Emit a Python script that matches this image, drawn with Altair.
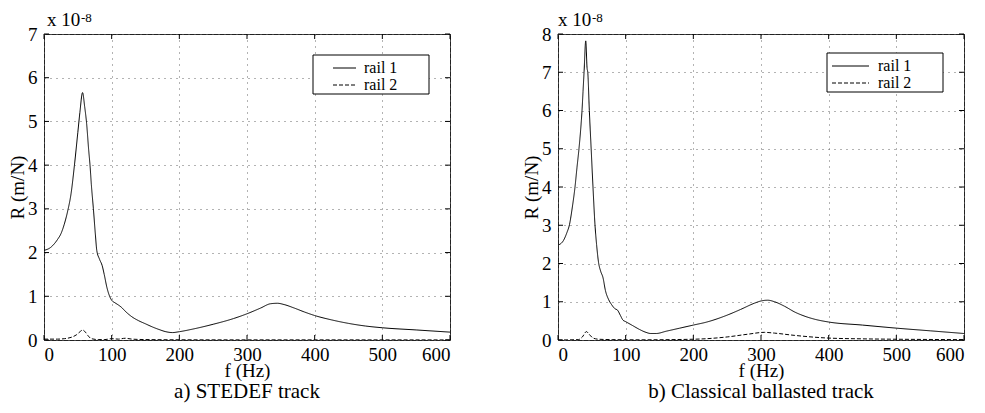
import altair as alt
import pandas as pd

# ---------------- data (R in units of 1e-8 m/N) ----------------
a_f1 = [0, 10, 20, 25, 30, 35, 40, 45, 50, 53, 57, 60, 63, 66, 68, 70, 73, 76, 78, 82, 86, 89, 93, 97,
        100, 105, 110, 115, 120, 130, 140, 150, 160, 170, 180, 190, 200, 220, 250, 280, 300, 320, 335,
        345, 355, 370, 385, 400, 425, 450, 475, 500, 550, 600]
a_r1 = [2.05, 2.12, 2.3, 2.43, 2.65, 2.95, 3.35, 4.0, 4.75, 5.2, 5.66, 5.35, 4.95, 4.35, 4.0, 3.55, 3.0,
        2.4, 2.05, 1.85, 1.7, 1.5, 1.2, 1.0, 0.91, 0.85, 0.8, 0.74, 0.66, 0.53, 0.44, 0.37, 0.3, 0.24,
        0.19, 0.17, 0.19, 0.25, 0.36, 0.49, 0.6, 0.73, 0.83, 0.84, 0.81, 0.73, 0.64, 0.56, 0.46, 0.38,
        0.32, 0.28, 0.23, 0.18]
a_f2 = [0, 20, 30, 40, 48, 54, 57, 60, 65, 70, 80, 90, 100, 110, 120, 130, 150, 200, 300, 400, 600]
a_r2 = [0.02, 0.02, 0.03, 0.06, 0.12, 0.2, 0.23, 0.2, 0.1, 0.03, 0.01, 0.01, 0.03, 0.02, 0.04, 0.02,
        0.01, 0.005, 0.003, 0.003, 0.002]

b_f1 = [0, 8, 13, 17, 21, 25, 28, 31, 33.5, 35.5, 37, 38.5, 41, 43, 44, 46.3, 49, 51.7, 54.7, 57, 60,
        63, 66.5, 70, 75, 79, 84, 88, 92, 96, 100, 110, 120, 130, 137, 145, 160, 180, 200, 220, 250,
        270, 290, 300, 310, 320, 335, 350, 365, 380, 400, 450, 500, 550, 600]
b_r1 = [2.48, 2.6, 2.8, 3.02, 3.45, 3.98, 4.5, 5.0, 5.5, 6.0, 6.5, 7.0, 7.82, 7.1, 7.0, 6.0, 5.0, 4.0,
        3.0, 2.5, 2.02, 1.8, 1.63, 1.3, 1.05, 0.93, 0.82, 0.78, 0.65, 0.52, 0.48, 0.38, 0.28, 0.2, 0.17,
        0.17, 0.23, 0.31, 0.39, 0.47, 0.65, 0.8, 0.96, 1.02, 1.04, 1.0, 0.88, 0.73, 0.62, 0.54, 0.47,
        0.39, 0.31, 0.24, 0.17]
b_f2 = [0, 30, 36, 42, 46, 52, 60, 80, 120, 200, 250, 280, 305, 320, 350, 400, 450, 500, 600]
b_r2 = [0.0, 0.01, 0.08, 0.22, 0.15, 0.05, 0.02, 0.01, 0.005, 0.02, 0.08, 0.15, 0.2, 0.18, 0.12, 0.05,
        0.03, 0.02, 0.01]

series_names = ["rail 1", "rail 2"]
x_ticks = [0, 100, 200, 300, 400, 500, 600]
a_y_ticks = [0, 1, 2, 3, 4, 5, 6, 7]
b_y_ticks = [0, 1, 2, 3, 4, 5, 6, 7, 8]
exp_base = "x 10"
exp_power = "-8"
titles = ["a) STEDEF track", "b) Classical ballasted track"]
x_title = "f (Hz)"
y_title = "R (m/N)"

W, H = 406, 306
FONT = "Liberation Serif"
TICK = 5
DASHES = [[1, 0], [4, 2]]
ONE = pd.DataFrame({"k": [0]})


def panel(f1, r1, f2, r2, yticks, title, text_x, leg_y, sym_x0, sym_x1):
    df = pd.concat([
        pd.DataFrame({"f": f1, "R": r1, "rail": series_names[0]}),
        pd.DataFrame({"f": f2, "R": r2, "rail": series_names[1]}),
    ])
    ymax = yticks[-1]
    xs = alt.Scale(domain=[0, 600], nice=False, zero=False)
    ys = alt.Scale(domain=[0, ymax], nice=False)
    xa = alt.Axis(values=x_ticks, title=x_title, format="d", titleY=21)
    ya = alt.Axis(values=yticks, title=y_title, format="d")

    lines = alt.Chart(df).mark_line(color="black", strokeWidth=1, interpolate="monotone", clip=True).encode(
        x=alt.X("f:Q", scale=xs, axis=xa),
        y=alt.Y("R:Q", scale=ys, axis=ya),
        strokeDash=alt.StrokeDash("rail:N", scale=alt.Scale(domain=series_names, range=DASHES),
                                  legend=None),
    )

    xt = pd.DataFrame({"v": x_ticks})
    yt = pd.DataFrame({"v": yticks})
    tick_bottom = alt.Chart(xt).mark_rule(color="black", strokeWidth=1).encode(
        x=alt.X("v:Q", scale=xs, axis=xa), y=alt.value(H), y2=alt.value(H - TICK))
    tick_top = alt.Chart(xt).mark_rule(color="black", strokeWidth=1).encode(
        x=alt.X("v:Q", scale=xs, axis=xa), y=alt.value(0), y2=alt.value(TICK))
    tick_left = alt.Chart(yt).mark_rule(color="black", strokeWidth=1).encode(
        y=alt.Y("v:Q", scale=ys, axis=ya), x=alt.value(0), x2=alt.value(TICK))
    tick_right = alt.Chart(yt).mark_rule(color="black", strokeWidth=1).encode(
        y=alt.Y("v:Q", scale=ys, axis=ya), x=alt.value(W), x2=alt.value(W - TICK))

    base_txt = alt.Chart(pd.DataFrame({"t": [exp_base]})).mark_text(
        font=FONT, fontSize=19, align="left", baseline="alphabetic", color="black").encode(
        text="t:N", x=alt.value(text_x), y=alt.value(-8))
    pow_txt = alt.Chart(pd.DataFrame({"t": [exp_power]})).mark_text(
        font=FONT, fontSize=13, align="left", baseline="alphabetic", color="black").encode(
        text="t:N", x=alt.value(text_x + 34), y=alt.value(-12))

    # legend box
    box = alt.Chart(ONE).mark_rect(fill="white", stroke="black", strokeWidth=1).encode(
        x=alt.value(269), x2=alt.value(385), y=alt.value(leg_y), y2=alt.value(leg_y + 39))
    leg_layers = [box]
    for i, name in enumerate(series_names):
        ry = leg_y + 13 + 17 * i
        leg_layers.append(
            alt.Chart(pd.DataFrame({"rail": [name]})).mark_rule(color="black", strokeWidth=1,
                                                                strokeDash=DASHES[i]).encode(
                x=alt.value(sym_x0), x2=alt.value(sym_x1), y=alt.value(ry)))
        leg_layers.append(
            alt.Chart(pd.DataFrame({"rail": [name]})).mark_text(
                font=FONT, fontSize=16, align="left", baseline="middle", color="black").encode(
                text="rail:N", x=alt.value(320), y=alt.value(ry)))

    return alt.layer(lines, tick_bottom, tick_top, tick_left, tick_right, base_txt, pow_txt,
                     *leg_layers).properties(
        width=W, height=H,
        title=alt.TitleParams(title, orient="bottom", anchor="middle", font=FONT, fontSize=21,
                              fontWeight="normal", color="black", offset=1),
    )


left = panel(a_f1, a_r1, a_f2, a_r2, a_y_ticks, titles[0], 3, 21, 289, 312)
right = panel(b_f1, b_r1, b_f2, b_r2, b_y_ticks, titles[1], 0, 19, 274, 311)

chart = alt.hconcat(left, right, spacing=71).properties(
    padding={"left": 0, "top": 2, "right": 0, "bottom": 0},
    background="white",
).configure_view(stroke="#222", strokeWidth=1).configure_axis(
    labelFont=FONT, labelFontSize=19, labelColor="black", titleFont=FONT, titleFontSize=19,
    titleFontWeight="normal", titleColor="black", domain=False, ticks=False,
    grid=True, gridColor="#666", gridDash=[1, 5], gridWidth=1,
).configure_axisX(labelPadding=5, titlePadding=1).configure_axisY(labelPadding=7, titlePadding=0)

chart.save("out.html", embed_options={"renderer": "svg", "actions": False})
